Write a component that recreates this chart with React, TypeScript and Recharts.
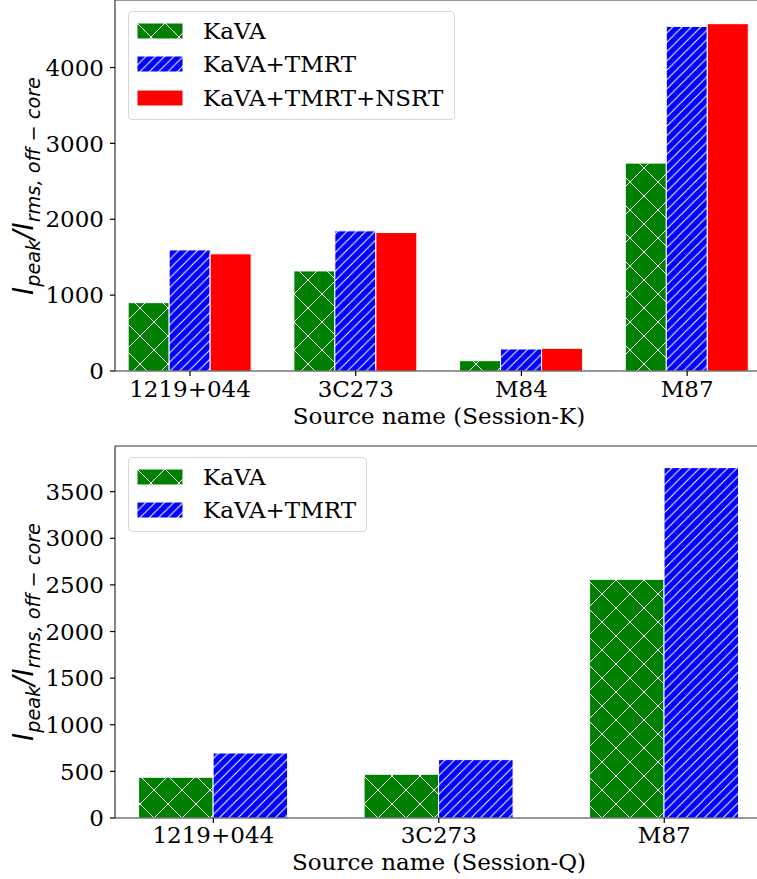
import { Bar, BarChart, Label, Legend, ReferenceLine, XAxis, YAxis } from "recharts";

// Session-K values
const kSources = ["1219+044", "3C273", "M84", "M87"];
const kKava = [901, 1319, 136, 2740];
const kKavaTmrt = [1596, 1847, 290, 4542];
const kKavaTmrtNsrt = [1544, 1825, 299, 4578];
const kTicks = [0, 1000, 2000, 3000, 4000];

// Session-Q values
const qSources = ["1219+044", "3C273", "M87"];
const qKava = [437, 469, 2560];
const qKavaTmrt = [697, 626, 3758];
const qTicks = [0, 500, 1000, 1500, 2000, 2500, 3000, 3500];

const serif = '"DejaVu Serif", serif';
const fontSize = 23;
const spine = "#333";

const kData = kSources.map((source, i) => ({
  source,
  kava: kKava[i],
  tmrt: kKavaTmrt[i],
  nsrt: kKavaTmrtNsrt[i],
}));
const qData = qSources.map((source, i) => ({ source, kava: qKava[i], tmrt: qKavaTmrt[i] }));

const kavaFill = "url(#hatch-cross)";
const tmrtFill = "url(#hatch-diag)";
const nsrtFill = "#ff0000";

function Hatches() {
  const s = 28;
  const d = 9.33;
  return (
    <svg width={0} height={0} style={{ position: "absolute" }}>
      <defs>
        <pattern id="hatch-cross" patternUnits="userSpaceOnUse" width={s} height={s}>
          <rect width={s} height={s} fill="#008000" />
          <path
            d={`M-2,-2 L${s + 2},${s + 2} M-2,${s + 2} L${s + 2},-2 M-2,${-s - 2} L${s + 2},2 M-2,${s - 2} L${s + 2},${2 * s + 2} M-2,2 L2,-2 M${s - 2},${s + 2} L${s + 2},${s - 2}`}
            stroke="#fff"
            strokeWidth={1}
          />
        </pattern>
        <pattern id="hatch-diag" patternUnits="userSpaceOnUse" width={d} height={d}>
          <rect width={d} height={d} fill="#0000ff" />
          <path
            d={`M-1,${d + 1} L${d + 1},-1 M-2,2 L2,-2 M${d - 2},${d + 2} L${d + 2},${d - 2}`}
            stroke="#fff"
            strokeWidth={1}
          />
        </pattern>
      </defs>
    </svg>
  );
}

function MathYLabel({ lx, ly }: { lx: number; ly: number }) {
  return (
    <text
      transform={`translate(${lx},${ly}) rotate(-90)`}
      textAnchor="middle"
      style={{ fontFamily: '"DejaVu Sans", sans-serif', fontStyle: "italic" }}
      fontSize={27.5}
      fill="#000"
    >
      I
      <tspan fontSize={19.3} dy={7}>
        peak
      </tspan>
      <tspan dy={-7}>/I</tspan>
      <tspan fontSize={19.3} dy={7}>
        rms, off − core
      </tspan>
    </text>
  );
}

function HatchLegend({ items, width, height }: { items: { name: string; fill: string }[]; width: number; height: number }) {
  return (
    <div
      style={{
        boxSizing: "border-box",
        width,
        height,
        paddingTop: 2,
        border: "1px solid #d6d6d6",
        borderRadius: 4,
        background: "rgba(255,255,255,0.8)",
        fontFamily: serif,
        fontSize,
        color: "#000",
      }}
    >
      {items.map((it) => (
        <div key={it.name} style={{ display: "flex", alignItems: "center", height: 33.5 }}>
          <svg width={46} height={16} style={{ marginLeft: 8, flex: "none" }}>
            <rect x={0} y={0} width={46} height={16} fill={it.fill} stroke="#fff" strokeWidth={1} />
          </svg>
          <span style={{ marginLeft: 20, whiteSpace: "nowrap", fontFamily: serif }}>{it.name}</span>
        </div>
      ))}
    </div>
  );
}

const tickStyle = { fontSize, style: { fontFamily: serif }, fill: "#000" };

function AxisTitle({ x, y, text }: { x: number; y: number; text: string }) {
  return (
    <text x={x} y={y} textAnchor="middle" style={{ fontFamily: serif }} fontSize={fontSize} fill="#000">
      {text}
    </text>
  );
}

function SessionK() {
  return (
    <BarChart width={790} height={440} data={kData} margin={{ top: 0, right: 27, left: 0, bottom: 0 }} barGap={0}>
      <XAxis
        dataKey="source"
        height={69}
        padding={{ left: -7.85, right: -7 }}
        tick={tickStyle}
        tickSize={5}
        tickMargin={5}
        tickLine={{ stroke: "#000", strokeWidth: 1.2 }}
        axisLine={{ stroke: spine, strokeWidth: 1.2 }}
      >
        <Label content={() => <AxisTitle x={439} y={424} text="Source name (Session-K)" />} />
      </XAxis>
      <YAxis
        type="number"
        width={115}
        domain={[0, 4890]}
        ticks={kTicks}
        allowDataOverflow
        tick={tickStyle}
        tickSize={5}
        tickMargin={6}
        tickLine={{ stroke: "#000", strokeWidth: 1.2 }}
        axisLine={{ stroke: spine, strokeWidth: 1.2 }}
      >
        <Label content={() => <MathYLabel lx={33} ly={186} />} />
      </YAxis>
      <ReferenceLine y={4890} stroke={spine} strokeWidth={1.2} />
      <Bar dataKey="kava" name="KaVA" fill={kavaFill} stroke="#fff" strokeWidth={1} barSize={41} isAnimationActive={false} />
      <Bar dataKey="tmrt" name="KaVA+TMRT" fill={tmrtFill} stroke="#fff" strokeWidth={1} barSize={41} isAnimationActive={false} />
      <Bar dataKey="nsrt" name="KaVA+TMRT+NSRT" fill={nsrtFill} stroke="#fff" strokeWidth={1} barSize={41} isAnimationActive={false} />
      <Legend
        layout="vertical"
        align="center"
        verticalAlign="middle"
        wrapperStyle={{ left: 128, top: 11, width: 327, height: 109 }}
        content={() => (
          <HatchLegend
            width={327}
            height={109}
            items={[
              { name: "KaVA", fill: kavaFill },
              { name: "KaVA+TMRT", fill: tmrtFill },
              { name: "KaVA+TMRT+NSRT", fill: nsrtFill },
            ]}
          />
        )}
      />
    </BarChart>
  );
}

function SessionQ() {
  return (
    <BarChart width={790} height={439} data={qData} margin={{ top: 6, right: 27, left: 0, bottom: 0 }} barGap={0}>
      <XAxis
        dataKey="source"
        height={61}
        padding={{ left: -14.4, right: -14 }}
        tick={tickStyle}
        tickSize={5}
        tickMargin={4}
        tickLine={{ stroke: "#000", strokeWidth: 1.2 }}
        axisLine={{ stroke: spine, strokeWidth: 1.2 }}
      >
        <Label content={() => <AxisTitle x={439} y={430} text="Source name (Session-Q)" />} />
      </XAxis>
      <YAxis
        type="number"
        width={115}
        domain={[0, 3990]}
        ticks={qTicks}
        allowDataOverflow
        tick={tickStyle}
        tickSize={5}
        tickMargin={6}
        tickLine={{ stroke: "#000", strokeWidth: 1.2 }}
        axisLine={{ stroke: spine, strokeWidth: 1.2 }}
      >
        <Label content={() => <MathYLabel lx={33} ly={192} />} />
      </YAxis>
      <ReferenceLine y={3990} stroke={spine} strokeWidth={1.2} />
      <Bar dataKey="kava" name="KaVA" fill={kavaFill} stroke="#fff" strokeWidth={1} barSize={74.5} isAnimationActive={false} />
      <Bar dataKey="tmrt" name="KaVA+TMRT" fill={tmrtFill} stroke="#fff" strokeWidth={1} barSize={74.5} isAnimationActive={false} />
      <Legend
        layout="vertical"
        align="center"
        verticalAlign="middle"
        wrapperStyle={{ left: 128, top: 17, width: 239, height: 75 }}
        content={() => (
          <HatchLegend
            width={239}
            height={75}
            items={[
              { name: "KaVA", fill: kavaFill },
              { name: "KaVA+TMRT", fill: tmrtFill },
            ]}
          />
        )}
      />
    </BarChart>
  );
}

export default function App() {
  return (
    <div
      style={{
        position: "fixed",
        left: 0,
        top: 0,
        width: 757,
        height: 879,
        overflow: "hidden",
        background: "#fff",
        fontFamily: serif,
      }}
    >
      <Hatches />
      <div style={{ position: "absolute", left: 0, top: 0 }}>
        <SessionK />
      </div>
      <div style={{ position: "absolute", left: 0, top: 440 }}>
        <SessionQ />
      </div>
    </div>
  );
}
